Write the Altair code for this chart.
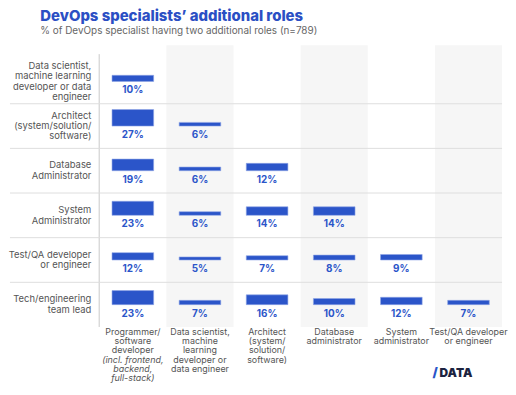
import altair as alt
import pandas as pd

rows = [
    "Data scientist,|machine learning|developer or data|engineer",
    "Architect|(system/solution/|software)",
    "Database|Administrator",
    "System|Administrator",
    "Test/QA developer|or engineer",
    "Tech/engineering|team lead",
]
cols = [
    "Programmer/|software|developer",
    "Data scientist,|machine|learning|developer or|data engineer",
    "Architect|(system/|solution/|software)",
    "Database|administrator",
    "System|administrator",
    "Test/QA developer|or engineer",
]
cols_italic = ["(incl. frontend,|backend,|full-stack)", "", "", "", "", ""]
values = [
    [10, None, None, None, None, None],
    [27, 6, None, None, None, None],
    [19, 6, 12, None, None, None],
    [23, 6, 14, 14, None, None],
    [12, 5, 7, 8, 9, None],
    [23, 7, 16, 10, 12, 7],
]

recs = []
for ri, r in enumerate(rows):
    for ci, c in enumerate(cols):
        recs.append({"row": r, "col": c, "colit": cols_italic[ci], "ri": ri, "ci": ci,
                     "value": values[ri][ci]})
df = pd.DataFrame(recs)

BLUE = "#2b55c9"
GRAY = "#555555"
FONT = "Inter"
H = 45
W = 406
LH = 9.3
RLH = 10.5

x = alt.X("col:N", sort=cols, scale=alt.Scale(paddingInner=0, paddingOuter=0), axis=None)
yscale = alt.Scale(domain=[-36.5, 36.5], nice=False, zero=False)
pxscale = alt.Scale(domain=[0, H], reverse=True, nice=False, zero=False)

base = alt.Chart(df)

bands = base.transform_filter("datum.ci % 2 == 1").mark_rect(color="#f6f6f6").encode(
    x=x, y=alt.value(0), y2=alt.value(H))
bands_top = base.transform_filter("datum.ci % 2 == 1 && datum.ri == 0").mark_rect(color="#f6f6f6").encode(
    x=x, y=alt.value(-14), y2=alt.value(0))
seps = base.transform_filter("datum.ri > 0 && datum.ci == 0").mark_rule(color="#dedede", strokeWidth=1).encode(
    x=alt.value(-90), x2=alt.value(W), y=alt.value(0))
vline = base.transform_filter("datum.ci == 0").mark_rule(color="#dadada", strokeWidth=1.5).encode(
    x=alt.value(0), y=alt.value(0), y2=alt.value(H))
vline_top = base.transform_filter("datum.ci == 0 && datum.ri == 0").mark_rule(color="#dadada", strokeWidth=1.5).encode(
    x=alt.value(0), y=alt.value(-5), y2=alt.value(0))
bars = base.transform_filter("datum.value != null").mark_bar(
    color=BLUE, stroke="#8fa6e6", strokeWidth=0.6, width=alt.RelativeBandSize(0.62)).encode(
    x=x, y=alt.Y("value:Q", scale=yscale, axis=None))
texts = base.transform_filter("datum.value != null").transform_calculate(
    label="datum.value + '%'").mark_text(
    color=BLUE, font=FONT, fontWeight="bold", fontSize=10, dy=9, baseline="middle").encode(
    x=x, y=alt.Y("zero:Q", scale=yscale, axis=None), text="label:N").transform_calculate(zero="0")
rowlab = base.transform_filter("datum.ci == 0").transform_calculate(
    nl="length(split(datum.row, '|'))",
    ly=f"{H / 2} - (datum.nl - 1) * {RLH / 2}").mark_text(
    color=GRAY, font=FONT, fontSize=9.5, align="right", baseline="middle", lineBreak="|",
    lineHeight=RLH).encode(
    x=alt.value(-8), y=alt.Y("ly:Q", scale=pxscale, axis=None), text="row:N")
collab = base.transform_filter("datum.ri == 5").mark_text(
    color=GRAY, font=FONT, fontSize=9, align="center", baseline="top", lineBreak="|",
    lineHeight=LH).encode(
    x=x, y=alt.value(H + 1), text="col:N")
collab_it = base.transform_filter("datum.ri == 5 && datum.colit != ''").mark_text(
    color=GRAY, font=FONT, fontSize=9, fontStyle="italic", align="center", baseline="top",
    lineBreak="|", lineHeight=LH).encode(
    x=x, y=alt.value(H + 1 + 3 * LH), text="colit:N")
logo1 = base.transform_filter("datum.ri == 5 && datum.ci == 0").mark_text(
    text="/", color=BLUE, font=FONT, fontWeight=900, fontSize=13, align="left", baseline="middle").encode(
    x=alt.value(336), y=alt.value(91))
logo2 = base.transform_filter("datum.ri == 5 && datum.ci == 0").mark_text(
    text="DATA", color="#1c2340", font=FONT, fontWeight=900, fontSize=12, align="left", baseline="middle").encode(
    x=alt.value(343), y=alt.value(91))

layer = alt.layer(bands, bands_top, seps, vline, vline_top, bars, texts, rowlab, collab,
                  collab_it, logo1, logo2).resolve_scale(y="independent").properties(width=W, height=H)

chart = layer.facet(
    row=alt.Row("row:N", sort=rows, title=None, header=alt.Header(labels=False, title=None)),
    spacing=0,
    bounds="flush",
).properties(
    title=alt.TitleParams(
        "DevOps specialists’ additional roles",
        subtitle="% of DevOps specialist having two additional roles (n=789)",
        anchor="start", frame="bounds", dx=32, font=FONT, fontSize=15, fontWeight=800,
        color="#2b4fc4", subtitleFont=FONT, subtitleFontSize=10, subtitleColor="#666666",
        subtitlePadding=2, offset=9),
    padding=0,
).configure_view(stroke=None)

chart.save("out.html", embed_options={"renderer": "svg", "actions": False})
